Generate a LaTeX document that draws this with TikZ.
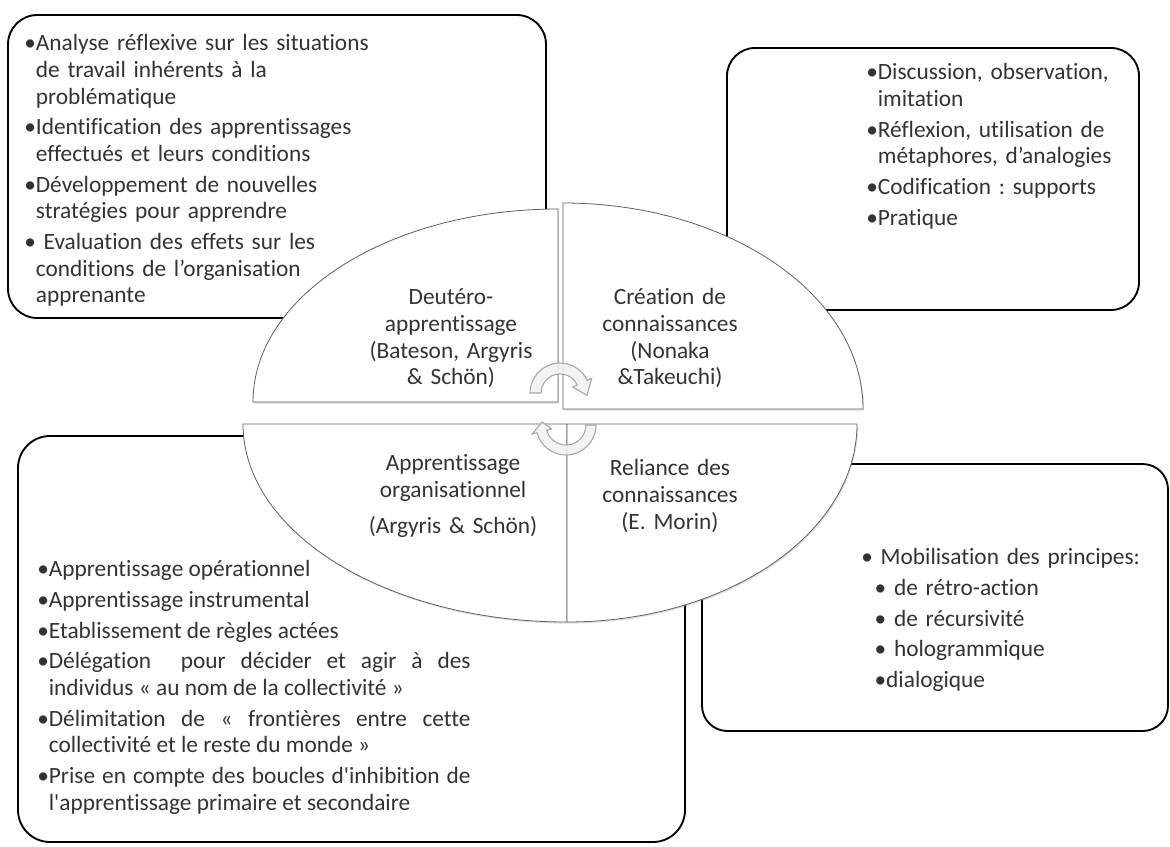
\documentclass[tikz,border=0pt]{standalone}
\usepackage{fontspec}
\setmainfont{Carlito}[Ligatures={TeXOff,NoCommon}]
\usetikzlibrary{calc,shadows}
\frenchspacing

\newlength{\bulw}
\newcommand{\bul}[1]{\hangindent=\bulw\hangafter=1\noindent\strut•#1\par}

\tikzset{
  cadre/.style={draw=black, line width=1.4pt, rounded corners=#1},
  quart/.style={draw=gray!75!black, line width=0.6pt, fill=white,
    drop shadow={opacity=0.25, shadow xshift=0.8pt, shadow yshift=-1.2pt}},
  fleche/.style={draw=gray!70, line width=0.8pt, fill=gray!10, fill opacity=0.85},
  liste/.style={anchor=north west, inner sep=0pt, align=left, text=black!80,
    font=\fontsize{17.5}{20}\selectfont,
    execute at begin node={\setlength{\parskip}{3pt}\setlength{\parindent}{0pt}\settowidth{\bulw}{•}}},
  ragged/.style={execute at begin node={\raggedright}},
  titre/.style={anchor=north, inner sep=0pt, align=center, text width=160pt, text=black!80,
    font=\fontsize{17.5}{20}\selectfont, execute at begin node={\centering}}
}

\begin{document}
\begin{tikzpicture}[x=0.75pt,y=-0.75pt]
\useasboundingbox (0,0) rectangle (1170,846);
\fill[white] (0,0) rectangle (1170,846);

% cadres des quatre listes
\draw[cadre=22pt] (8,15) rectangle (546,318);
\draw[cadre=21pt] (727,48) rectangle (1139,310);
\draw[cadre=24pt] (18,436) rectangle (685,842);
\draw[cadre=19pt] (702,464) rectangle (1168,731);

% les quatre quarts d'ellipse
\draw[quart] (558,402) -- (253,402) arc[start angle=180, end angle=270, x radius=305, y radius=193] -- cycle;
\draw[quart] (563,409) -- (563,203) arc[start angle=270, end angle=360, x radius=300, y radius=206] -- cycle;
\draw[quart] (567,424) -- (243,424) arc[start angle=180, end angle=90, x radius=324, y radius=198] -- cycle;
\draw[quart] (567,424) -- (857,424) arc[start angle=0, end angle=90, x radius=290, y radius=198] -- cycle;

% fleches circulaires
\coordinate (ht) at (560,393);
\draw[fleche] ($(ht)+(180:30)$) arc[start angle=180, end angle=335, radius=30]
  -- ($(ht)+(335:35)$) -- ($(ht)+(5:27)$) -- ($(ht)+(335:14)$) -- ($(ht)+(335:19)$)
  arc[start angle=335, end angle=180, radius=19] -- cycle;
\coordinate (bs) at (566,425);
\draw[fleche] ($(bs)+(0:30)$) arc[start angle=0, end angle=165, radius=30]
  -- ($(bs)+(165:35)$) -- ($(bs)+(187:24)$) -- ($(bs)+(165:15)$) -- ($(bs)+(165:20)$)
  arc[start angle=165, end angle=0, radius=20] -- cycle;

% titres des quarts
\node[titre] (qdeutero) at (451,286) {\strut Deutéro-\\apprentissage\\(Bateson, Argyris\\\& Schön)};
\node[titre] (qcreation) at (670,286) {\strut Création de\\connaissances\\(Nonaka\\\&Takeuchi)};
\node[titre] (qorga) at (453,452) {\strut Apprentissage\\organisationnel\\[7pt](Argyris \& Schön)};
\node[titre] (qreliance) at (670,457) {\strut Reliance des\\connaissances\\(E. Morin)};

% listes
\node[liste, ragged, text width=270pt] (deutero) at (24,32) {%
  \bul{Analyse réflexive sur les situations\newline de travail inhérents à la\newline problématique}%
  \bul{Identification des apprentissages\newline effectués et leurs conditions}%
  \bul{Développement de nouvelles\newline stratégies pour apprendre}%
  \bul{ Evaluation des effets sur les\newline conditions de l’organisation\newline apprenante}};
\node[liste, ragged, text width=200pt] (creation) at (866,61) {%
  \bul{Discussion, observation,\newline imitation}%
  \bul{Réflexion, utilisation de\newline métaphores, d’analogies}%
  \bul{Codification : supports}%
  \bul{Pratique}};
\node[liste, text width=325pt, align=justify] (orga) at (37,558) {%
  \bul{Apprentissage opérationnel}%
  \bul{Apprentissage instrumental}%
  \bul{Etablissement de règles actées}%
  \bul{Délégation \ pour décider et agir à des\linebreak individus « au nom de la collectivité »}%
  \bul{Délimitation de « frontières entre cette\linebreak collectivité et le reste du monde »}%
  \bul{Prise en compte des boucles d'inhibition de\linebreak l'apprentissage primaire et secondaire}};
\node[liste, ragged, text width=250pt] (reliance) at (861,546) {%
  \strut• Mobilisation des principes:\par
  \hspace*{10pt}• de rétro-action\par
  \hspace*{10pt}• de récursivité\par
  \hspace*{10pt}• hologrammique\par
  \hspace*{10pt}•dialogique};
\end{tikzpicture}
\end{document}
